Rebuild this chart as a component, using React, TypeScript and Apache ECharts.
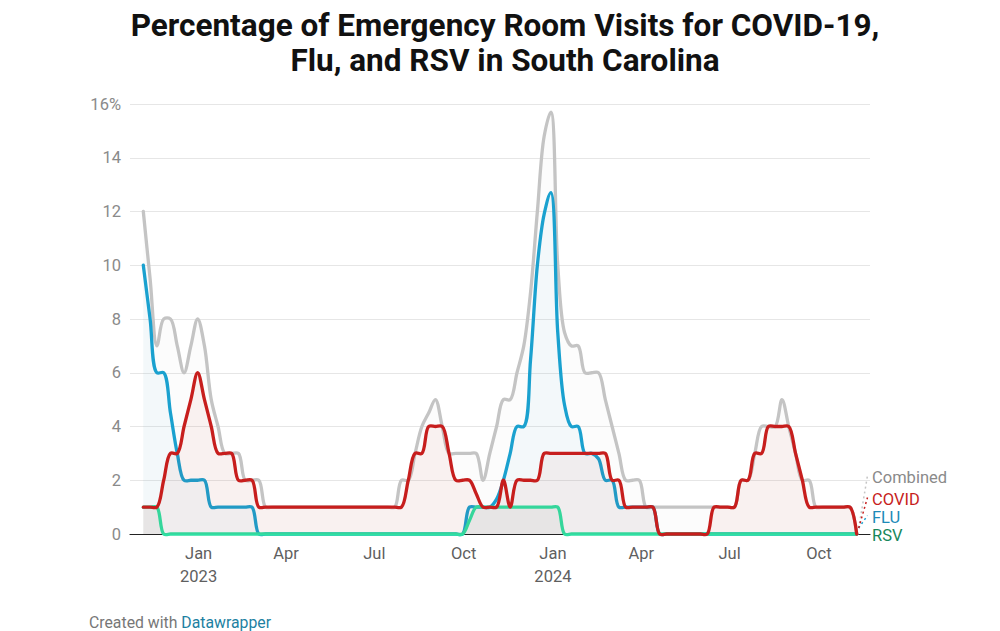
import React, { useEffect, useRef } from 'react';
import * as echarts from 'echarts';

const DAY = 86400000;
const firstWeek = Date.UTC(2022, 10, 5);
const weekCount = 106;
const weekDates: number[] = Array.from({ length: weekCount }, (_, i) => firstWeek + i * 7 * DAY);

const combined = [
  12, 9.5, 7, 8, 8, 7, 6, 7, 8, 7,
  5, 4, 3, 3, 3, 2, 2, 2, 1, 1,
  1, 1, 1, 1, 1, 1, 1, 1, 1, 1,
  1, 1, 1, 1, 1, 1, 1, 1, 2, 2,
  3, 4, 4.5, 5, 4, 3, 3, 3, 3, 3,
  2, 3, 4, 5, 5, 6, 7, 9, 12, 14.8,
  15.7, 10, 7.5, 7, 7, 6, 6, 6, 5, 4,
  3, 2, 2, 2, 1, 1, 1, 1, 1, 1,
  1, 1, 1, 1, 1, 1, 1, 1, 2, 2,
  3, 4, 4, 4, 5, 4, 3, 2, 2, 1,
  1, 1, 1, 1, 1, 0,
];

const covid = [
  1, 1, 1, 2, 3, 3, 4, 5, 6, 5,
  4, 3, 3, 3, 2, 2, 2, 1, 1, 1,
  1, 1, 1, 1, 1, 1, 1, 1, 1, 1,
  1, 1, 1, 1, 1, 1, 1, 1, 1, 2,
  3, 3, 4, 4, 4, 3, 2, 2, 2, 1.5,
  1, 1, 1, 2, 1, 2, 2, 2, 2, 3,
  3, 3, 3, 3, 3, 3, 3, 3, 3, 2,
  2, 1, 1, 1, 1, 1, 0, 0, 0, 0,
  0, 0, 0, 0, 1, 1, 1, 1, 2, 2,
  3, 3, 4, 4, 4, 4, 3, 2, 1, 1,
  1, 1, 1, 1, 1, 0,
];

const flu = [
  10, 8, 6, 6, 4.5, 3, 2, 2, 2, 2,
  1, 1, 1, 1, 1, 1, 1, 0, 0, 0,
  0, 0, 0, 0, 0, 0, 0, 0, 0, 0,
  0, 0, 0, 0, 0, 0, 0, 0, 0, 0,
  0, 0, 0, 0, 0, 0, 0, 0, 1, 1,
  1, 1, 1.3, 2, 3, 4, 4, 6.5, 10, 11.9,
  12.7, 7.5, 4.8, 4, 4, 3, 3, 2.8, 2, 2,
  1, 1, 1, 1, 1, 1, 0, 0, 0, 0,
  0, 0, 0, 0, 0, 0, 0, 0, 0, 0,
  0, 0, 0, 0, 0, 0, 0, 0, 0, 0,
  0, 0, 0, 0, 0, 0,
];

const rsv = [
  1, 1, 1, 0, 0, 0, 0, 0, 0, 0,
  0, 0, 0, 0, 0, 0, 0, 0, 0, 0,
  0, 0, 0, 0, 0, 0, 0, 0, 0, 0,
  0, 0, 0, 0, 0, 0, 0, 0, 0, 0,
  0, 0, 0, 0, 0, 0, 0, 0, 0.5, 1,
  1, 1, 1, 1, 1, 1, 1, 1, 1, 1,
  1, 1, 0, 0, 0, 0, 0, 0, 0, 0,
  0, 0, 0, 0, 0, 0, 0, 0, 0, 0,
  0, 0, 0, 0, 0, 0, 0, 0, 0, 0,
  0, 0, 0, 0, 0, 0, 0, 0, 0, 0,
  0, 0, 0, 0, 0, 0,
];

const tickDates = [
  Date.UTC(2023, 0, 1), Date.UTC(2023, 3, 1), Date.UTC(2023, 6, 1), Date.UTC(2023, 9, 1),
  Date.UTC(2024, 0, 1), Date.UTC(2024, 3, 1), Date.UTC(2024, 6, 1), Date.UTC(2024, 9, 1),
];
const tickLabels = ['Jan\n2023', 'Apr', 'Jul', 'Oct', 'Jan\n2024', 'Apr', 'Jul', 'Oct'];

const titleLines = ['Percentage of Emergency Room Visits for COVID-19,', 'Flu, and RSV in South Carolina'];

const seriesDefs = [
  { name: 'Combined', values: combined, line: '#c4c4c4', area: 'rgba(190,190,190,0.05)', label: '#8a8a8a', labelY: 477.5, leader: true },
  { name: 'FLU', values: flu, line: '#1aa1cf', area: 'rgba(26,161,207,0.04)', label: '#1d8ab8', labelY: 517.5, leader: true },
  { name: 'RSV', values: rsv, line: '#2ee0a3', area: 'rgba(120,140,130,0.07)', label: '#17875a', labelY: 535, leader: false },
  { name: 'COVID', values: covid, line: '#c71e1d', area: 'rgba(199,30,29,0.05)', label: '#c71e1d', labelY: 499.5, leader: true },
];

const FONT = 'Roboto, "Noto Sans", sans-serif';

// Centripetal Catmull-Rom curve through pixel points (same construction as d3.curveCatmullRom)
function curvePath(pts: number[][]): string {
  const alpha = 0.5;
  const n = pts.length;
  const f = (v: number) => v.toFixed(2);
  let d = `M${f(pts[0][0])},${f(pts[0][1])}`;
  const dist = (a: number[], b: number[]) => Math.hypot(a[0] - b[0], a[1] - b[1]);
  for (let i = 0; i < n - 1; i++) {
    const p1 = pts[i];
    const p2 = pts[i + 1];
    const p0 = i > 0 ? pts[i - 1] : null;
    const p3 = i + 2 < n ? pts[i + 2] : null;
    const l12 = dist(p1, p2);
    const l12_2a = Math.pow(l12, 2 * alpha);
    const l12_a = Math.pow(l12, alpha);
    let c1x = p1[0];
    let c1y = p1[1];
    let c2x = p2[0];
    let c2y = p2[1];
    if (p0) {
      const l01 = dist(p0, p1);
      const l01_a = Math.pow(l01, alpha);
      const l01_2a = Math.pow(l01, 2 * alpha);
      if (l01_a > 1e-9) {
        const a = 2 * l01_2a + 3 * l01_a * l12_a + l12_2a;
        const nn = 3 * l01_a * (l01_a + l12_a);
        c1x = (p1[0] * a - p0[0] * l12_2a + p2[0] * l01_2a) / nn;
        c1y = (p1[1] * a - p0[1] * l12_2a + p2[1] * l01_2a) / nn;
      }
    }
    if (p3) {
      const l23 = dist(p2, p3);
      const l23_a = Math.pow(l23, alpha);
      const l23_2a = Math.pow(l23, 2 * alpha);
      if (l23_a > 1e-9) {
        const b = 2 * l23_2a + 3 * l23_a * l12_a + l12_2a;
        const m = 3 * l23_a * (l23_a + l12_a);
        c2x = (p2[0] * b + p1[0] * l23_2a - p3[0] * l12_2a) / m;
        c2y = (p2[1] * b + p1[1] * l23_2a - p3[1] * l12_2a) / m;
      }
    }
    d += ` C${f(c1x)},${f(c1y)} ${f(c2x)},${f(c2y)} ${f(p2[0])},${f(p2[1])}`;
  }
  return d;
}

export default function App() {
  const ref = useRef<HTMLDivElement>(null);
  useEffect(() => {
    if (!ref.current) return;
    const chart = echarts.init(ref.current, null, { renderer: 'svg' });
    const xMin = weekDates[0] - 13.7 * DAY;
    const xMax = weekDates[weekCount - 1] + 13.7 * DAY;
    chart.setOption({
      animation: false,
      backgroundColor: '#ffffff',
      grid: { left: 130, right: 130, top: 104, bottom: 97, containLabel: false },
      xAxis: {
        type: 'value',
        min: xMin,
        max: xMax,
        axisLine: { show: true, onZero: true, lineStyle: { color: '#222', width: 1.2 } },
        axisTick: { show: false },
        splitLine: { show: false },
        axisLabel: {
          customValues: tickDates,
          formatter: (v: number) => {
            const idx = tickDates.indexOf(v);
            return idx >= 0 ? tickLabels[idx] : '';
          },
          color: '#5f5f5f',
          fontSize: 16.5,
          fontFamily: FONT,
          margin: 8,
          lineHeight: 23,
          hideOverlap: false,
        },
      },
      yAxis: {
        type: 'value',
        min: 0,
        max: 16,
        interval: 2,
        axisLine: { show: false },
        axisTick: { show: false },
        axisLabel: {
          formatter: (v: number) => (v === 16 ? '16%' : String(v)),
          color: '#8a8a8a',
          fontSize: 16.5,
          fontFamily: FONT,
          margin: 9,
        },
        splitLine: { lineStyle: { color: '#e6e6e6', width: 1 } },
      },
      series: seriesDefs.map((s, k) => ({
        type: 'custom',
        name: s.name,
        data: weekDates.map((d, i) => [d, s.values[i]]),
        encode: { x: 0, y: 1 },
        z: 2 + k,
        clip: false,
        silent: true,
        renderItem: (params: any, api: any) => {
          if (params.dataIndex !== 0) return null;
          const pts = s.values.map((v, i) => api.coord([weekDates[i], v]) as number[]);
          const line = curvePath(pts);
          const b0 = api.coord([weekDates[0], 0]);
          const b1 = api.coord([weekDates[weekCount - 1], 0]);
          const area = `${line} L${b1[0]},${b1[1]} L${b0[0]},${b0[1]} Z`;
          return {
            type: 'group',
            children: [
              { type: 'path', shape: { pathData: area }, style: { fill: s.area, stroke: 'none' } },
              {
                type: 'path',
                shape: { pathData: line },
                style: { fill: 'none', stroke: s.line, lineWidth: 3.3, lineCap: 'round', lineJoin: 'round' },
              },
            ],
          };
        },
      })),
    });

    const labelX = 872;
    const elements: any[] = [];
    titleLines.forEach((t, i) => {
      elements.push({
        type: 'text',
        x: 505,
        y: 25 + i * 35,
        style: {
          text: t,
          fontFamily: FONT,
          fontWeight: 'bold',
          fontSize: 31.5,
          fill: '#111',
          align: 'center',
          verticalAlign: 'middle',
        },
      });
    });
    seriesDefs.forEach((s) => {
      const last = weekCount - 1;
      const p = chart.convertToPixel({ xAxisIndex: 0, yAxisIndex: 0 }, [weekDates[last], s.values[last]]) as number[];
      elements.push({
        type: 'text',
        x: labelX,
        y: s.labelY,
        style: {
          text: s.name,
          fontFamily: FONT,
          fontSize: 16.5,
          fill: s.label,
          align: 'left',
          verticalAlign: 'middle',
        },
      });
      if (s.leader && p && isFinite(p[0])) {
        elements.push({
          type: 'line',
          shape: { x1: p[0] + 2, y1: p[1] - 6, x2: labelX - 4.5, y2: s.labelY - 2 },
          style: { stroke: s.line, lineWidth: 1.5, lineDash: [2, 3] },
          z: 10,
        });
      }
    });
    elements.push({
      type: 'text',
      x: 89,
      y: 622,
      style: {
        text: '{a|Created with }{b|Datawrapper}',
        rich: {
          a: { fontFamily: FONT, fontSize: 15.8, fill: '#777' },
          b: { fontFamily: FONT, fontSize: 15.8, fill: '#1d81a2' },
        },
        align: 'left',
        verticalAlign: 'middle',
      },
    });
    chart.setOption({ graphic: elements });
    return () => chart.dispose();
  }, []);
  return (
    <div
      ref={ref}
      style={{ position: 'fixed', left: 0, top: 0, width: 1000, height: 631, background: '#fff' }}
    />
  );
}
